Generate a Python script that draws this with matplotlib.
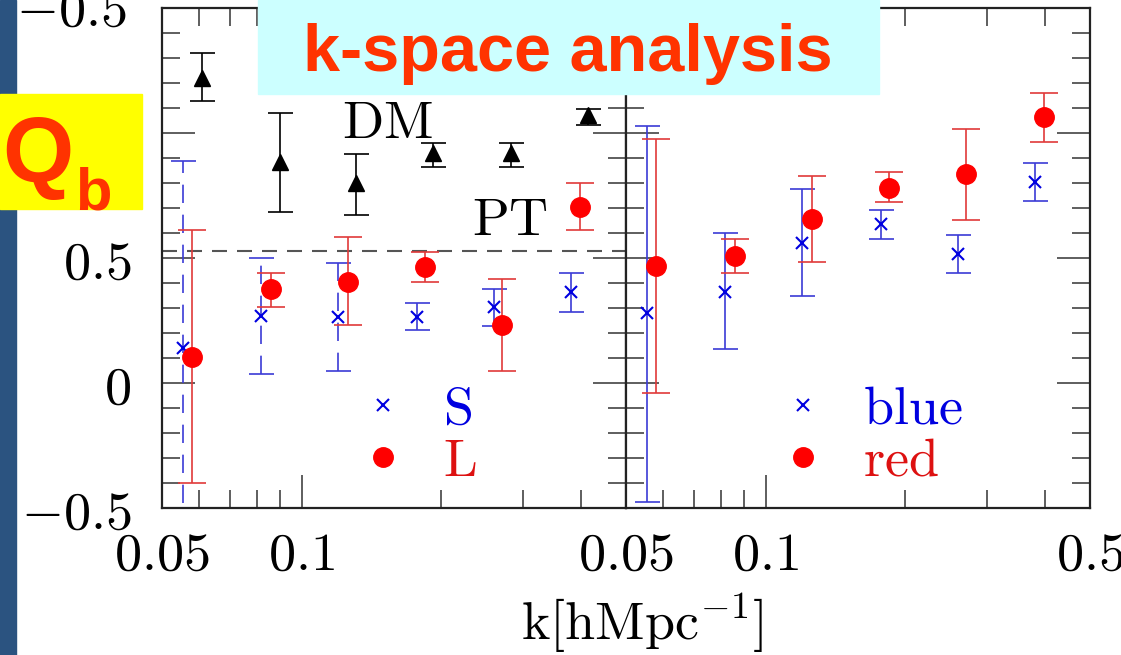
import matplotlib
matplotlib.use('Agg')
import matplotlib.pyplot as plt
from matplotlib.patches import Rectangle
from matplotlib.ticker import FixedLocator, FixedFormatter, MultipleLocator, NullFormatter

plt.rcParams['mathtext.fontset'] = 'cm'

# ---- data ----
k_dm = [0.061, 0.090, 0.131, 0.192, 0.283, 0.414]
q_dm = [1.22, 0.884, 0.80, 0.92, 0.92, 1.072]
dm_lo = [1.128, 0.684, 0.672, 0.864, 0.864, 1.032]
dm_hi = [1.32, 1.08, 0.916, 0.96, 0.96, 1.096]

pt_level = 0.53

k_blue = [0.0555, 0.0817, 0.120, 0.177, 0.260, 0.381]
k_red = [0.058, 0.0858, 0.1256, 0.184, 0.2706, 0.398]

q_S = [0.14, 0.268, 0.264, 0.264, 0.304, 0.364]
S_lo = [-0.6, 0.036, 0.048, 0.212, 0.228, 0.284]
S_hi = [0.888, 0.50, 0.48, 0.32, 0.376, 0.44]

q_L = [0.104, 0.376, 0.404, 0.464, 0.232, 0.704]
L_lo = [-0.40, 0.304, 0.232, 0.404, 0.048, 0.612]
L_hi = [0.612, 0.44, 0.584, 0.524, 0.416, 0.80]

q_b = [0.28, 0.364, 0.56, 0.636, 0.516, 0.804]
b_lo = [-0.476, 0.136, 0.348, 0.576, 0.44, 0.728]
b_hi = [1.028, 0.60, 0.776, 0.692, 0.592, 0.88]

q_r = [0.468, 0.508, 0.656, 0.78, 0.836, 1.064]
r_lo = [-0.04, 0.44, 0.484, 0.724, 0.652, 0.964]
r_hi = [0.976, 0.576, 0.828, 0.844, 1.016, 1.16]

x_major = [0.05, 0.1, 0.5]
x_minor = [0.06, 0.07, 0.08, 0.09, 0.2, 0.3, 0.4]
left_xlabels = ['$0.05$', '$0.1$', '']
right_xlabels = ['$0.05$', '$0.1$', '$0.5$']
y_major = [-0.5, 0, 0.5, 1.0, 1.5]
left_ylabels = ['$-0.5$', '$0$', '$0.5$', '$1$', '']

BLUE_BAR = '#3b3bd6'
BLUE_PT = '#0000e0'
RED_BAR = '#e03a3a'
RED_PT = '#ff0000'
TITLE_RED = '#ff3300'
FS = 39

W, H = 1121, 655
fig = plt.figure(figsize=(W / 100, H / 100), dpi=100)


def box(x0, y0, x1, y1):
    # pixel box (from top-left) -> figure fraction rect
    return [x0 / W, 1 - y1 / H, (x1 - x0) / W, (y1 - y0) / H]


def bars(ax, k, q, lo, hi, color, cap, lw=1.2):
    yerr = [[a - b for a, b in zip(q, lo)], [b - a for a, b in zip(q, hi)]]
    return ax.errorbar(k, q, yerr=yerr, fmt='none', ecolor=color,
                       elinewidth=lw, capsize=cap, capthick=lw)


ax1 = fig.add_axes(box(162, 8, 626, 508))
ax2 = fig.add_axes(box(626, 8, 1090, 508))

for ax in (ax1, ax2):
    ax.set_xscale('log')
    ax.set_xlim(0.05, 0.5)
    ax.set_ylim(-0.5, 1.5)
    ax.xaxis.set_major_locator(FixedLocator(x_major))
    ax.xaxis.set_minor_locator(FixedLocator(x_minor))
    ax.xaxis.set_minor_formatter(NullFormatter())
    ax.yaxis.set_major_locator(FixedLocator(y_major))
    ax.yaxis.set_minor_locator(MultipleLocator(0.1))
    ax.tick_params(which='both', direction='in', top=True, right=True,
                   width=1.1, color='#333333', labelsize=FS)
    ax.tick_params(which='major', length=24)
    ax.tick_params(axis='x', which='major', pad=15)
    ax.tick_params(axis='y', which='major', pad=22)
    ax.tick_params(which='minor', length=13)
    for s in ax.spines.values():
        s.set_linewidth(1.6)
        s.set_color('#222222')

ax1.xaxis.set_major_formatter(FixedFormatter(left_xlabels))
ax2.xaxis.set_major_formatter(FixedFormatter(right_xlabels))
ax1.yaxis.set_major_formatter(FixedFormatter(left_ylabels))
ax2.yaxis.set_major_formatter(NullFormatter())

# left panel: S / L with dark matter and PT reference
bars(ax1, k_dm, q_dm, dm_lo, dm_hi, 'black', 9)
ax1.plot(k_dm, q_dm, ls='none', marker='^', ms=11, color='black')
ax1.axhline(pt_level, color='#555555', lw=1.5, ls=(0, (7.2, 4.8)))

eb = bars(ax1, k_blue, q_S, S_lo, S_hi, BLUE_BAR, 9)
eb[2][0].set_linestyles([(0, (11, 7))] * 3 + ['solid'] * 3)
bars(ax1, k_red, q_L, L_lo, L_hi, RED_BAR, 10)
ax1.plot(k_blue, q_S, ls='none', marker='x', ms=8, mew=1.5, color=BLUE_PT, label='$\\mathrm{S}$')
ax1.plot(k_red, q_L, ls='none', marker='o', ms=14, color=RED_PT, label='$\\mathrm{L}$')

ax1.text(0.387, 0.74, '$\\mathrm{DM}$', transform=ax1.transAxes, fontsize=FS, va='baseline')
ax1.text(0.669, 0.546, '$\\mathrm{PT}$', transform=ax1.transAxes, fontsize=FS, va='baseline')

# right panel: blue / red
bars(ax2, k_blue, q_b, b_lo, b_hi, BLUE_BAR, 9)
bars(ax2, k_red, q_r, r_lo, r_hi, RED_BAR, 10)
ax2.plot(k_blue, q_b, ls='none', marker='x', ms=8, mew=1.5, color=BLUE_PT, label='$\\mathrm{blue}$')
ax2.plot(k_red, q_r, ls='none', marker='o', ms=14, color=RED_PT, label='$\\mathrm{red}$')

for ax, x0 in ((ax1, 0.419), (ax2, 0.323)):
    ax.legend(loc='center left', bbox_to_anchor=(x0, 0.147), frameon=False,
              fontsize=FS, numpoints=1, handlelength=1.0, handletextpad=0.6,
              labelspacing=0.0, borderpad=0, borderaxespad=0,
              labelcolor=[BLUE_PT, '#dd1111'])

fig.text(642 / W, 1 - 641 / H, '$\\mathrm{k[hMpc^{-1}]}$', fontsize=FS,
         ha='center', va='baseline')

# leftover label of the panel above
fig.text(16 / W, 1 - 26 / H, '$-0.5$', fontsize=FS, ha='left', va='baseline')

# slide decorations
fig.patches.append(Rectangle((0, 0), 16 / W, 1, transform=fig.transFigure,
                             color='#2b5380', zorder=5))
fig.patches.append(Rectangle((258 / W, 1 - 94 / H), 621 / W, 94 / H,
                             transform=fig.transFigure, color='#ccffff', zorder=5))
fig.patches.append(Rectangle((0, 1 - 209 / H), 142 / W, 115 / H,
                             transform=fig.transFigure, color='#ffff00', zorder=6))

fig.text(568 / W, 1 - 71 / H, 'k-space analysis', fontsize=48, fontweight='bold',
         family='Liberation Sans', color=TITLE_RED, ha='center', va='baseline', zorder=7)
fig.text(2 / W, 1 - 182 / H, 'Q', fontsize=66, fontweight='bold',
         family='Liberation Sans', color=TITLE_RED, ha='left', va='baseline', zorder=7)
fig.text(75 / W, 1 - 210 / H, 'b', fontsize=43, fontweight='bold',
         family='Liberation Sans', color=TITLE_RED, ha='left', va='baseline', zorder=7)

fig.savefig('out.png', dpi=100)
